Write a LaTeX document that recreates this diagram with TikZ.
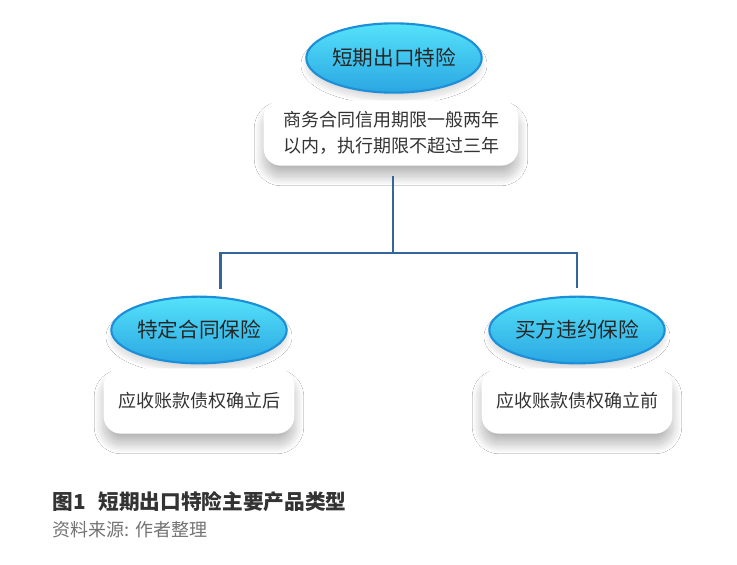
\documentclass[tikz,border=0pt]{standalone}
\usepackage{fontspec}
\setmainfont{Noto Sans CJK SC}
\usepackage{xcolor}
\usetikzlibrary{positioning, shapes.geometric, shadows.blur}
\definecolor{linkblue}{HTML}{35659A}
\definecolor{rimblue}{HTML}{1C8FD8}
\definecolor{topcyan}{HTML}{55E2FA}
\definecolor{botcyan}{HTML}{2AA6E2}

\tikzset{
    kind/.style={ellipse, draw=rimblue, line width=1.6pt, top color=topcyan, bottom color=botcyan,
        text=black!85, font=\fontsize{15.5}{18}\selectfont, inner sep=0pt,
        minimum width=129pt, minimum height=50pt,
        blur shadow={shadow xshift=0pt, shadow yshift=-5pt, shadow blur radius=4pt,
            shadow blur steps=20, shadow opacity=15}},
    note/.style={rectangle, rounded corners=13pt, fill=white, text=black!80, align=center,
        font=\fontsize{13.5}{19}\selectfont, inner sep=0pt, minimum height=49pt,
        blur shadow={shadow xshift=0pt, shadow yshift=-8pt, shadow blur radius=7pt,
            shadow blur steps=30, shadow opacity=28}},
    link/.style={draw=linkblue, line width=2.2pt}
}

\begin{document}
\begin{tikzpicture}[x=0.75pt, y=-0.75pt]
    \useasboundingbox (0,0) rectangle (737,564);
    \fill[white] (0,0) rectangle (737,564);

    % 顶部
    \node[kind, minimum height=52pt] (short) at (394,58) {短期出口特险};
    \node[note, minimum width=191pt] (shortnote) at (391,133) {商务合同信用期限一般两年\\以内，执行期限不超过三年};

    % 两类产品
    \node[kind] (contract) at (199,330) {特定合同保险};
    \node[note, minimum width=143pt] (contractnote) at (199,401) {应收账款债权确立后};
    \node[kind] (buyer) at (577,330) {买方违约保险};
    \node[note, minimum width=143pt] (buyernote) at (577,401) {应收账款债权确立前};

    % 连线
    \coordinate (split) at (393,253);
    \draw[link] (shortnote.south -| split) ++(0,10) -- (split);
    \draw[link, shorten >=5pt] (split) -| ([xshift=16pt]contract.north);
    \draw[link, shorten >=6pt] (split) -| (buyer.north);

    % 图注
    \node[anchor=west, font=\fontsize{15.5}{18}\bfseries, text=black!80] (title) at (48,502) {图1\hspace{0.6em}短期出口特险主要产品类型};
    \node[anchor=west, font=\fontsize{13.5}{16}\selectfont, text=black!55] (source) at (48,530) {资料来源: 作者整理};
\end{tikzpicture}
\end{document}
